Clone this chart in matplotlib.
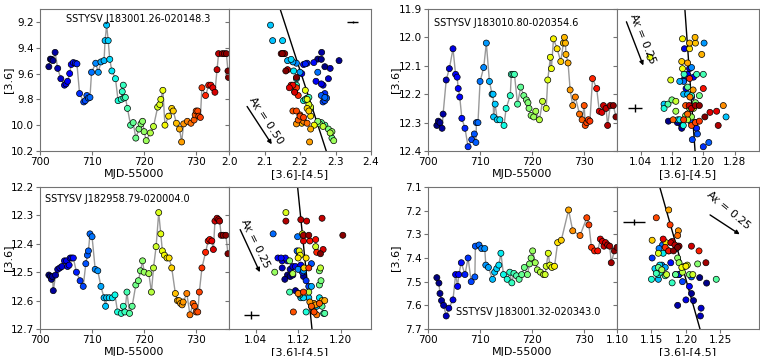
import numpy as np
import matplotlib
matplotlib.use('Agg')
import matplotlib.pyplot as plt
from matplotlib.ticker import FormatStrFormatter, FixedLocator

# ---------------- data ----------------
names = ["SSTYSV J183001.26-020148.3", "SSTYSV J183010.80-020354.6",
         "SSTYSV J182958.79-020004.0", "SSTYSV J183001.32-020343.0"]

t1 = [701.7, 702.0, 702.2, 702.5, 702.9, 703.4, 704.0, 704.7, 705.0, 705.3,
      705.7, 706.0, 706.4, 706.8, 707.1, 707.6, 708.4, 708.7, 709.0, 709.3,
      709.6, 709.9, 710.7, 711.2, 711.7, 712.3, 712.5, 712.8, 713.1, 713.4,
      713.8, 714.5, 715.0, 715.6, 715.8, 716.0, 716.1, 716.4, 716.8, 717.4,
      717.9, 718.4, 719.0, 719.4, 719.7, 720.0, 720.4, 721.2, 721.8, 722.6,
      723.0, 723.2, 723.6, 724.0, 724.7, 725.3, 725.6, 726.2, 726.8, 727.2,
      727.6, 728.3, 729.0, 729.6, 729.8, 730.0, 730.3, 730.5, 730.8, 731.1,
      731.8, 732.4, 732.8, 733.2, 733.6, 734.0, 734.3, 735.0, 735.4, 735.8,
      736.1, 736.2]
mag1 = [9.547, 9.488, 9.49, 9.50, 9.436, 9.56, 9.64, 9.69, 9.68, 9.66,
        9.60, 9.53, 9.515, 9.52, 9.525, 9.755, 9.82, 9.81, 9.77, 9.79,
        9.785, 9.59, 9.52, 9.59, 9.51, 9.50, 9.345, 9.225, 9.345, 9.49,
        9.58, 9.64, 9.81, 9.80, 9.74, 9.69, 9.79, 9.785, 9.87, 10.0,
        9.98, 10.10, 10.03, 9.99, 9.97, 10.05, 10.12, 10.06, 10.01, 9.86,
        9.84, 9.80, 9.73, 10.0, 9.93, 9.87, 9.89, 9.985, 10.03, 10.13,
        9.99, 9.97, 9.985, 9.96, 9.92, 9.89, 9.89, 9.93, 9.94, 9.71,
        9.77, 9.69, 9.69, 9.71, 9.745, 9.57, 9.446, 9.446, 9.446, 9.446,
        9.58, 9.63]
col1 = [2.27, 2.25, 2.26, 2.31, 2.261, 2.285, 2.28, 2.265, 2.26, 2.245,
        2.205, 2.21, 2.239, 2.22, 2.215, 2.27, 2.265, 2.27, 2.26, 2.275,
        2.27, 2.25, 2.19, 2.20, 2.18, 2.165, 2.123, 2.117, 2.151, 2.175,
        2.182, 2.19, 2.21, 2.215, 2.185, 2.19, 2.22, 2.225, 2.23, 2.27,
        2.26, 2.29, 2.28, 2.255, 2.25, 2.29, 2.295, 2.285, 2.265, 2.23,
        2.225, 2.22, 2.215, 2.24, 2.23, 2.22, 2.225, 2.205, 2.23, 2.227,
        2.19, 2.21, 2.22, 2.195, 2.20, 2.18, 2.19, 2.20, 2.21, 2.19,
        2.195, 2.175, 2.18, 2.17, 2.185, 2.165, 2.147, 2.153, 2.157, 2.15,
        2.16, 2.19]

t2 = [701.7, 701.98, 702.3, 702.7, 702.9, 703.5, 704.1, 704.8, 705.3, 705.6,
      705.8, 706.1, 706.5, 707.1, 707.7, 708.4, 708.9, 709.2, 709.3, 709.6,
      710.0, 710.7, 711.2, 711.8, 712.3, 712.5, 712.6, 712.9, 713.3, 713.8,
      714.6, 715.0, 715.8, 716.0, 716.3, 716.6, 717.2, 717.8, 718.4, 718.9,
      719.2, 719.4, 719.8, 720.3, 720.7, 721.4, 722.0, 722.7, 723.0, 723.5,
      723.7, 724.1, 724.8, 725.5, 726.0, 726.2, 726.4, 726.5, 726.9, 727.3,
      727.8, 728.3, 729.1, 729.6, 730.0, 730.2, 730.5, 730.8, 731.1, 731.6,
      732.4, 732.9, 733.4, 733.7, 734.2, 734.5, 735.0, 735.6, 736.1]
mag2 = [12.31, 12.295, 12.30, 12.32, 12.27, 12.15, 12.11, 12.04, 12.13, 12.14,
        12.18, 12.21, 12.285, 12.32, 12.385, 12.36, 12.34, 12.37, 12.30, 12.30,
        12.155, 12.106, 12.02, 12.155, 12.20, 12.20, 12.28, 12.235, 12.29, 12.29,
        12.31, 12.25, 12.205, 12.13, 12.13, 12.13, 12.235, 12.175, 12.205, 12.22,
        12.23, 12.25, 12.275, 12.28, 12.26, 12.29, 12.225, 12.25, 12.15, 12.07,
        12.11, 12.005, 12.04, 12.085, 12.02, 12.0, 12.02, 12.06, 12.09, 12.185,
        12.24, 12.21, 12.27, 12.29, 12.24, 12.31, 12.30, 12.29, 12.295, 12.145,
        12.18, 12.26, 12.264, 12.24, 12.25, 12.31, 12.24, 12.24, 12.28]
col2 = [1.145, 1.111, 1.134, 1.145, 1.16, 1.15, 1.165, 1.152, 1.16, 1.175,
        1.156, 1.17, 1.165, 1.183, 1.20, 1.172, 1.185, 1.214, 1.17, 1.18,
        1.15, 1.17, 1.202, 1.14, 1.15, 1.16, 1.258, 1.10, 1.135, 1.14,
        1.149, 1.10, 1.17, 1.151, 1.183, 1.20, 1.11, 1.16, 1.19, 1.12,
        1.18, 1.165, 1.155, 1.17, 1.13, 1.16, 1.13, 1.175, 1.117, 1.064,
        1.147, 1.147, 1.165, 1.145, 1.18, 1.179, 1.165, 1.196, 1.16, 1.174,
        1.251, 1.166, 1.16, 1.123, 1.155, 1.17, 1.18, 1.15, 1.19, 1.165,
        1.20, 1.234, 1.217, 1.164, 1.17, 1.238, 1.18, 1.19, 1.204]

t3 = [701.7, 702.0, 702.2, 702.4, 702.55, 703.0, 703.4, 703.8, 704.2, 704.7,
      705.1, 705.3, 705.6, 705.8, 706.1, 706.4, 707.0, 707.7, 708.3, 708.8,
      709.1, 709.3, 709.6, 710.0, 710.6, 711.1, 711.7, 712.3, 712.6, 712.8,
      713.3, 713.9, 714.4, 714.9, 715.6, 716.0, 716.3, 716.7, 717.2, 717.7,
      718.4, 718.9, 719.3, 719.7, 720.0, 720.9, 721.4, 721.8, 722.3, 722.8,
      723.2, 723.5, 723.9, 724.4, 724.8, 725.3, 726.0, 726.4, 726.7, 727.0,
      727.3, 727.5, 728.2, 728.8, 729.4, 729.7, 730.0, 730.3, 730.6, 731.1,
      731.8, 732.3, 732.6, 733.0, 733.3, 733.6, 734.0, 734.3, 734.5, 734.8,
      735.2, 735.7, 736.1]
mag3 = [12.51, 12.515, 12.525, 12.515, 12.565, 12.51, 12.49, 12.485, 12.48, 12.46,
        12.46, 12.48, 12.475, 12.45, 12.45, 12.45, 12.50, 12.53, 12.55, 12.47,
        12.44, 12.425, 12.365, 12.375, 12.49, 12.495, 12.55, 12.59, 12.62, 12.59,
        12.59, 12.59, 12.58, 12.64, 12.645, 12.62, 12.64, 12.57, 12.645, 12.62,
        12.545, 12.53, 12.495, 12.46, 12.50, 12.505, 12.57, 12.485, 12.41, 12.29,
        12.365, 12.425, 12.44, 12.45, 12.45, 12.485, 12.575, 12.60, 12.60, 12.61,
        12.615, 12.605, 12.575, 12.65, 12.61, 12.62, 12.64, 12.64, 12.57, 12.485,
        12.43, 12.39, 12.385, 12.39, 12.42, 12.32, 12.31, 12.315, 12.32, 12.37,
        12.37, 12.37, 12.435]
col3 = [1.10, 1.105, 1.095, 1.13, 1.115, 1.11, 1.105, 1.09, 1.11, 1.09,
        1.10, 1.115, 1.125, 1.082, 1.096, 1.088, 1.128, 1.135, 1.14, 1.145,
        1.122, 1.118, 1.073, 1.119, 1.12, 1.13, 1.145, 1.125, 1.155, 1.14,
        1.13, 1.16, 1.123, 1.135, 1.168, 1.145, 1.15, 1.104, 1.17, 1.165,
        1.16, 1.163, 1.16, 1.104, 1.076, 1.11, 1.14, 1.162, 1.153, 1.097,
        1.128, 1.122, 1.124, 1.12, 1.135, 1.131, 1.123, 1.165, 1.17, 1.15,
        1.153, 1.142, 1.12, 1.155, 1.16, 1.145, 1.111, 1.15, 1.13, 1.14,
        1.155, 1.142, 1.153, 1.13, 1.167, 1.136, 1.165, 1.125, 1.097, 1.13,
        1.14, 1.204, 1.162]

t4 = [701.7, 702.1, 702.3, 702.6, 703.0, 703.5, 704.0, 704.8, 705.3, 705.7,
      705.9, 706.4, 707.1, 707.7, 708.3, 709.0, 709.1, 709.8, 710.3, 710.9,
      711.1, 711.6, 712.4, 712.8, 713.2, 713.6, 714.0, 714.5, 715.2, 715.7,
      716.1, 716.5, 717.0, 717.5, 718.0, 718.5, 719.1, 719.5, 719.8, 720.1,
      720.6, 721.0, 721.6, 722.2, 722.5, 722.7, 723.1, 723.4, 723.8, 724.3,
      724.9, 725.6, 727.0, 727.8, 729.2, 730.5, 730.9, 731.4, 732.0, 732.6,
      733.1, 733.5, 733.8, 734.1, 734.5, 734.9, 735.2, 735.8, 736.3]
mag4 = [7.483, 7.506, 7.55, 7.58, 7.60, 7.645, 7.612, 7.577, 7.47, 7.52,
        7.47, 7.42, 7.47, 7.40, 7.50, 7.48, 7.35, 7.345, 7.36, 7.36,
        7.43, 7.44, 7.49, 7.46, 7.445, 7.43, 7.38, 7.47, 7.49, 7.46,
        7.505, 7.465, 7.475, 7.49, 7.47, 7.44, 7.47, 7.425, 7.40, 7.37,
        7.42, 7.45, 7.46, 7.47, 7.47, 7.435, 7.38, 7.43, 7.44, 7.435,
        7.335, 7.325, 7.197, 7.285, 7.305, 7.23, 7.26, 7.355, 7.37, 7.37,
        7.32, 7.33, 7.35, 7.335, 7.345, 7.35, 7.42, 7.37, 7.355]
col4 = [1.22, 1.23, 1.208, 1.211, 1.188, 1.221, 1.222, 1.20, 1.19, 1.205,
        1.185, 1.178, 1.19, 1.151, 1.195, 1.208, 1.189, 1.166, 1.161, 1.186,
        1.165, 1.17, 1.16, 1.158, 1.155, 1.162, 1.167, 1.16, 1.15, 1.163,
        1.18, 1.157, 1.17, 1.244, 1.185, 1.16, 1.205, 1.217, 1.188, 1.175,
        1.19, 1.165, 1.195, 1.172, 1.21, 1.198, 1.16, 1.202, 1.194, 1.20,
        1.171, 1.151, 1.175, 1.189, 1.188, 1.157, 1.177, 1.17, 1.219, 1.175,
        1.167, 1.18, 1.208, 1.178, 1.184, 1.19, 1.229, 1.182, 1.188]

# axis ranges / ticks
lc_xticks = [700, 710, 720, 730]
mag_lims = [(10.2, 9.1), (12.4, 11.9), (12.7, 12.2), (7.7, 7.1)]
mag_ticks = [[9.2, 9.4, 9.6, 9.8, 10.0, 10.2],
             [11.9, 12.0, 12.1, 12.2, 12.3, 12.4],
             [12.2, 12.3, 12.4, 12.5, 12.6, 12.7],
             [7.1, 7.2, 7.3, 7.4, 7.5, 7.6, 7.7]]
col_lims = [(2.0, 2.4), (0.98, 1.342), (0.99, 1.257), (1.10, 1.306)]
col_ticks = [[2.0, 2.1, 2.2, 2.3, 2.4], [1.04, 1.12, 1.20, 1.28],
             [1.04, 1.12, 1.20], [1.10, 1.15, 1.20, 1.25]]
col_fmt = ['%.1f', '%.2f', '%.2f', '%.2f']
mag_fmt = ['%.1f', '%.1f', '%.1f', '%.1f']

# reference lines, reddening vectors, error bars
line_x = [[2.144, 2.274], [1.153, 1.179], [1.119, 1.146], [1.162, 1.2204]]
line_y = [[9.1, 10.2], [11.9, 12.4], [12.2, 12.7], [7.1, 7.7]]
arrow_start = [(2.051, 9.855), (1.004, 11.945), (1.011, 12.35), (1.235, 7.218)]
arrow_end = [(2.1204, 10.148), (1.047, 12.099), (1.048, 12.5), (1.278, 7.30)]
ak_labels = [r"A$_K$ = 0.50", r"A$_K$ = 0.25", r"A$_K$ = 0.25", r"A$_K$ = 0.25"]
ak_pos = [(2.103, 9.965), (1.045, 12.005), (1.040, 12.40), (1.262, 7.198)]
ak_rot = [-57, -68, -64, -40]
err_pos = [(2.348, 9.2), (1.027, 12.249), (1.032, 12.65), (1.124, 7.249)]
err_x = [0.015, 0.018, 0.014, 0.016]
err_y = [0.008, 0.015, 0.015, 0.012]
name_pos = [(0.14, 0.93), (0.033, 0.90), (0.026, 0.915), (0.146, 0.12)]

series = [(t1, mag1, col1), (t2, mag2, col2), (t3, mag3, col3), (t4, mag4, col4)]

# ---------------- layout ----------------
W, H = 760, 356
fig = plt.figure(figsize=(W / 100, H / 100), dpi=100)
plt.rcParams['font.family'] = ['DejaVu Sans']

lc_x0 = [40, 428, 40, 428]
cmd_x0 = [229, 617, 229, 617]
top_px = [9, 9, 187, 187]
ylab_px = [13, 400, 13, 400]   # right edge of the rotated y label
lc_w, cmd_w, ph = 189, 142, 142

spine_col = '0.45'
FS = 7.5

for i in range(4):
    t, m, c = series[i]
    y0 = 1 - (top_px[i] + ph) / H
    ax = fig.add_axes([lc_x0[i] / W, y0, lc_w / W, ph / H])
    ax2 = fig.add_axes([cmd_x0[i] / W, y0, cmd_w / W, ph / H], sharey=ax)
    norm = plt.Normalize(min(t), max(t))

    ax.plot(t, m, '-', color='0.6', lw=1.0, zorder=1)
    ax.scatter(t, m, c=t, cmap='jet', norm=norm, s=19, edgecolors='k',
               linewidths=0.5, zorder=2)
    ax.set_xlim(700, 736.3)
    ax.set_ylim(*mag_lims[i])
    ax.xaxis.set_major_locator(FixedLocator(lc_xticks))
    ax.yaxis.set_major_locator(FixedLocator(mag_ticks[i]))
    ax.yaxis.set_major_formatter(FormatStrFormatter(mag_fmt[i]))
    ax.set_xlabel('MJD-55000', fontsize=8, labelpad=1)
    ax.set_ylabel('[3.6]', fontsize=8)
    ax.yaxis.set_label_coords((ylab_px[i] - lc_x0[i]) / lc_w, 0.5)
    ax.text(name_pos[i][0], name_pos[i][1], names[i], transform=ax.transAxes,
            fontsize=7, ha='left', va='center')

    ax2.plot(line_x[i], line_y[i], '-', color='k', lw=1.0, zorder=1)
    ax2.scatter(c, m, c=t, cmap='jet', norm=norm, s=19, edgecolors='k',
                linewidths=0.5, zorder=2)
    ax2.annotate('', xy=arrow_end[i], xytext=arrow_start[i],
                 arrowprops=dict(arrowstyle='-|>', color='k', lw=1.0,
                                 mutation_scale=6, shrinkA=0, shrinkB=0))
    ax2.text(ak_pos[i][0], ak_pos[i][1], ak_labels[i], rotation=ak_rot[i],
             fontsize=8, ha='center', va='center', rotation_mode='anchor')
    ax2.errorbar([err_pos[i][0]], [err_pos[i][1]], xerr=[err_x[i]],
                 yerr=[err_y[i]], fmt='none', ecolor='k', elinewidth=1.0,
                 capsize=0)
    ax2.set_xlim(*col_lims[i])
    ax2.xaxis.set_major_locator(FixedLocator(col_ticks[i]))
    ax2.xaxis.set_major_formatter(FormatStrFormatter(col_fmt[i]))
    ax2.tick_params(axis='y', labelleft=False)
    ax2.set_xlabel('[3.6]-[4.5]', fontsize=8, labelpad=1)

    for a in (ax, ax2):
        for s in a.spines.values():
            s.set_color(spine_col)
        a.tick_params(color=spine_col, labelsize=FS, length=3, pad=1.5)

fig.savefig('out.png', dpi=100)
